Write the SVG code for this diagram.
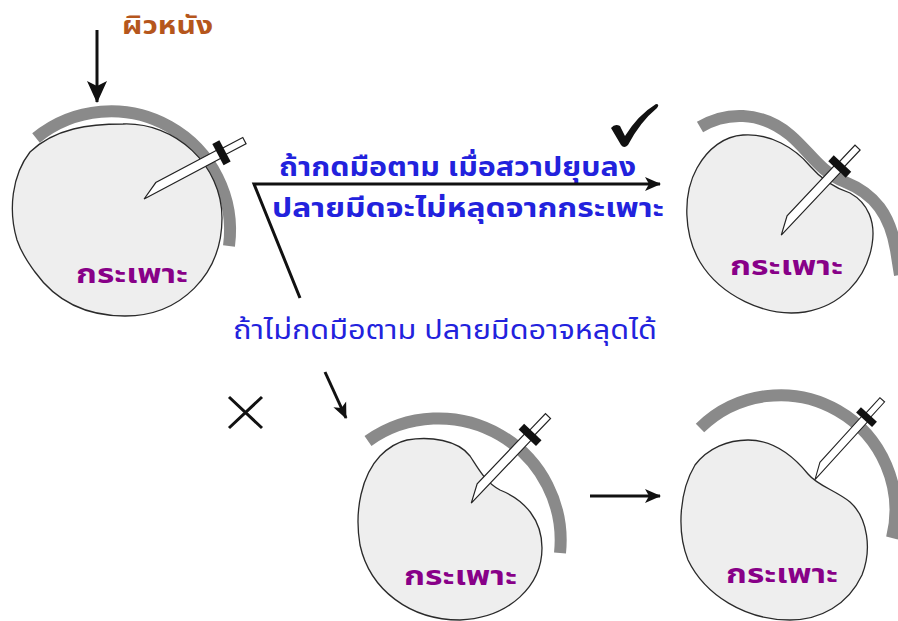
<svg xmlns="http://www.w3.org/2000/svg" xmlns:xlink="http://www.w3.org/1999/xlink" width="898" height="621" viewBox="0 0 898 621">
  <style>
    .stomach { fill: #eeeeee; stroke: #2a2a2a; stroke-width: 1.3; }
    .skin { fill: none; stroke: #8a8a8a; stroke-width: 12; stroke-linecap: butt; }
    .conn { fill: none; stroke: #111; stroke-width: 3; }
    .lbl { font-family: Tahoma, "Noto Sans Thai", "Noto Sans Thai UI", Loma, Garuda, "Noto Sans", sans-serif; }
    .organ { font-size: 27px; font-weight: bold; fill: #880088; }
    .note { font-size: 26px; fill: #2222dd; }
  </style>
  <defs>
    <marker id="ah" markerUnits="userSpaceOnUse" markerWidth="16" markerHeight="16" viewBox="0 0 16 16" refX="15" refY="8" orient="auto">
      <path d="M0,1 L16,8 L0,15 L4,8 Z" fill="#111"/>
    </marker>
    <marker id="ahL" markerUnits="userSpaceOnUse" markerWidth="22" markerHeight="22" viewBox="0 0 22 22" refX="21" refY="11" orient="auto">
      <path d="M0,1 L22,11 L0,21 L5,11 Z" fill="#111"/>
    </marker>
    <!-- knife: tip at origin, handle along +x -->
    <g id="knife">
      <polygon points="0,4.5 88,4.5 88,-4.5 18,-4.5" fill="#fff" stroke="#222" stroke-width="1.2"/>
      <rect x="88" y="-3.5" width="28" height="7" fill="#fff" stroke="#222" stroke-width="1.2"/>
      <rect x="86" y="-12" width="8" height="24" fill="#111"/>
    </g>
  </defs>

  <!-- top-left: stomach under the skin -->
  <g id="stomach-start">
    <path class="skin" d="M 36,138 A 119 119 0 0 1 229,246"/>
    <path class="stomach" d="M 123,124 C 175,122 222,165 222,218 C 222,275 180,316 125,316 C 85,316 55,300 35,272 C 28,262 22,255 17,240 C 8,210 12,175 30,152 C 55,128 90,124 123,124 Z"/>
    <use xlink:href="#knife" transform="translate(142,195) rotate(-28)"/>
    <text class="lbl organ" x="76" y="283" textLength="112" lengthAdjust="spacingAndGlyphs">กระเพาะ</text>
  </g>

  <!-- top-right: pressed, tip stays in -->
  <g id="stomach-held">
    <path class="skin" d="M 700,127 C 725,112 760,110 790,135 C 810,152 820,172 845,182 C 875,194 890,215 896,250 L 900,275"/>
    <path class="stomach" d="M 743,135 C 770,133 795,148 810,166 C 822,180 835,188 850,193 C 868,203 876,222 872,245 C 866,280 840,306 805,312 C 765,318 720,295 700,262 C 684,235 682,195 697,168 C 708,148 725,136 743,135 Z"/>
    <use xlink:href="#knife" transform="translate(778,232) rotate(-46.7)"/>
    <text class="lbl organ" x="730" y="275" textLength="113" lengthAdjust="spacingAndGlyphs">กระเพาะ</text>
  </g>

  <!-- bottom-middle: not pressed, stomach pulling away -->
  <g id="stomach-slipping">
    <path class="skin" d="M 368,441 A 122 122 0 0 1 560,553"/>
    <path class="stomach" d="M 407,440 C 430,436 458,440 470,456 C 478,468 485,482 500,490 C 525,500 542,520 542,548 C 542,585 510,618 460,620 C 410,620 370,590 360,545 C 354,510 362,475 380,456 C 390,446 398,442 407,440 Z"/>
    <use xlink:href="#knife" transform="translate(468,500) rotate(-46.4)"/>
    <text class="lbl organ" x="404" y="585" textLength="113" lengthAdjust="spacingAndGlyphs">กระเพาะ</text>
  </g>

  <!-- bottom-right: tip out of the stomach -->
  <g id="stomach-slipped">
    <path class="skin" d="M 700,428 A 115 115 0 0 1 892,538"/>
    <path class="stomach" d="M 748,440 C 775,440 795,458 808,474 C 818,486 835,490 850,502 C 868,518 872,550 862,575 C 848,605 820,620 790,620 C 745,620 705,595 688,560 C 676,530 680,490 695,465 C 708,448 728,440 748,440 Z"/>
    <use xlink:href="#knife" transform="translate(812,477) rotate(-47.7) scale(0.9)"/>
    <text class="lbl organ" x="726" y="583" textLength="112" lengthAdjust="spacingAndGlyphs">กระเพาะ</text>
  </g>

  <!-- skin label -->
  <g id="skin-label">
    <text class="lbl" x="122" y="34" font-size="24" font-weight="bold" fill="#b5561c" textLength="91" lengthAdjust="spacingAndGlyphs">ผิวหนัง</text>
  </g>

  <!-- outcome marks -->
  <g id="mark-ok">
    <path d="M 611,128 Q 615,123 620,126 L 625,136 Q 638,115 656,104 Q 660,104 657,108 Q 640,122 628,145 Q 624,149 621,145 Z" fill="#111"/>
  </g>
  <g id="mark-bad">
    <path d="M 229,397 L 262,428 M 262,397 L 229,428" stroke="#111" stroke-width="3" fill="none"/>
  </g>

  <!-- branch captions -->
  <g id="captions">
    <text class="lbl note" x="279" y="176" font-weight="bold" textLength="357" lengthAdjust="spacingAndGlyphs">ถ้ากดมือตาม เมื่อสวาปยุบลง</text>
    <text class="lbl note" x="272" y="217" font-weight="bold" textLength="392" lengthAdjust="spacingAndGlyphs">ปลายมีดจะไม่หลุดจากกระเพาะ</text>
    <text class="lbl note" x="233" y="339" textLength="424" lengthAdjust="spacingAndGlyphs">ถ้าไม่กดมือตาม ปลายมีดอาจหลุดได้</text>
  </g>

  <!-- connectors -->
  <g id="connectors">
    <line class="conn" x1="97" y1="30" x2="97" y2="102" marker-end="url(#ahL)"/>
    <polyline class="conn" points="300,298 254,184 660,184" marker-end="url(#ah)"/>
    <line class="conn" x1="325" y1="372" x2="346" y2="418" marker-end="url(#ah)"/>
    <line class="conn" x1="590" y1="496" x2="660" y2="496" marker-end="url(#ah)"/>
  </g>
</svg>
